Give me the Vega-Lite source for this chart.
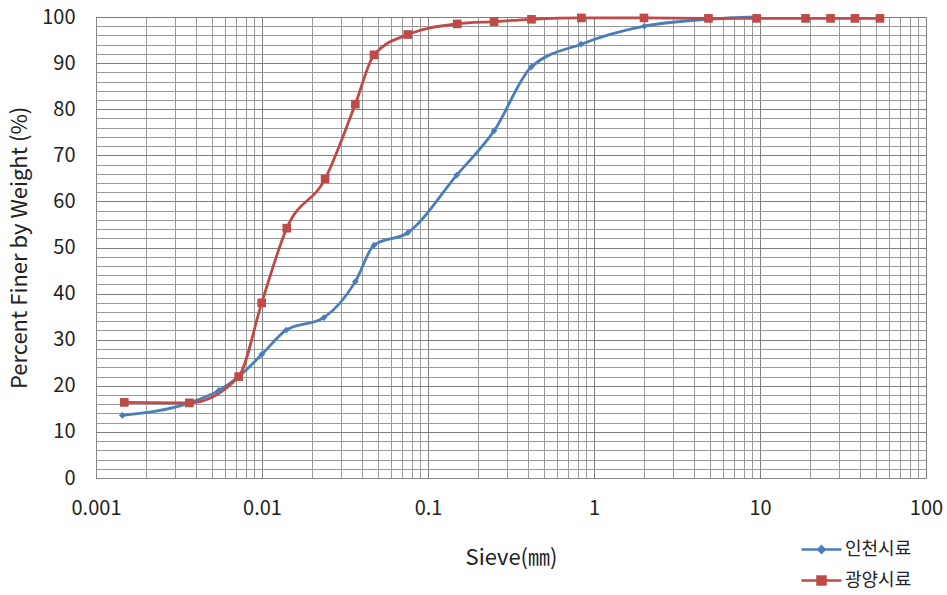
{
  "$schema": "https://vega.github.io/schema/vega-lite/v6.json",
  "width": 830,
  "height": 461,
  "autosize": "none",
  "padding": {"left": 96, "top": 17, "right": 21, "bottom": 117},
  "background": "white",
  "config": {
    "font": "Noto Sans CJK KR",
    "view": {"stroke": "#868686", "strokeWidth": 1}
  },
  "data": {
    "values": [
      {"sieve": 0.00144, "pct": 13.6, "sample": "인천시료"},
      {"sieve": 0.00365, "pct": 16.3, "sample": "인천시료"},
      {"sieve": 0.0055, "pct": 19.0, "sample": "인천시료"},
      {"sieve": 0.00724, "pct": 22.0, "sample": "인천시료"},
      {"sieve": 0.00996, "pct": 26.8, "sample": "인천시료"},
      {"sieve": 0.0140, "pct": 32.1, "sample": "인천시료"},
      {"sieve": 0.0236, "pct": 34.8, "sample": "인천시료"},
      {"sieve": 0.0365, "pct": 42.6, "sample": "인천시료"},
      {"sieve": 0.0473, "pct": 50.5, "sample": "인천시료"},
      {"sieve": 0.0755, "pct": 53.2, "sample": "인천시료"},
      {"sieve": 0.149, "pct": 65.7, "sample": "인천시료"},
      {"sieve": 0.25, "pct": 75.3, "sample": "인천시료"},
      {"sieve": 0.42, "pct": 89.2, "sample": "인천시료"},
      {"sieve": 0.835, "pct": 94.1, "sample": "인천시료"},
      {"sieve": 2.01, "pct": 98.0, "sample": "인천시료"},
      {"sieve": 4.8, "pct": 99.5, "sample": "인천시료"},
      {"sieve": 9.55, "pct": 100, "sample": "인천시료"},
      {"sieve": 0.00148, "pct": 16.4, "sample": "광양시료"},
      {"sieve": 0.00365, "pct": 16.3, "sample": "광양시료"},
      {"sieve": 0.00724, "pct": 22.0, "sample": "광양시료"},
      {"sieve": 0.00996, "pct": 38.0, "sample": "광양시료"},
      {"sieve": 0.0141, "pct": 54.2, "sample": "광양시료"},
      {"sieve": 0.024, "pct": 64.9, "sample": "광양시료"},
      {"sieve": 0.0365, "pct": 81.1, "sample": "광양시료"},
      {"sieve": 0.0473, "pct": 91.8, "sample": "광양시료"},
      {"sieve": 0.0755, "pct": 96.2, "sample": "광양시료"},
      {"sieve": 0.15, "pct": 98.5, "sample": "광양시료"},
      {"sieve": 0.25, "pct": 99.0, "sample": "광양시료"},
      {"sieve": 0.42, "pct": 99.5, "sample": "광양시료"},
      {"sieve": 0.84, "pct": 99.8, "sample": "광양시료"},
      {"sieve": 2.0, "pct": 99.8, "sample": "광양시료"},
      {"sieve": 4.89, "pct": 99.7, "sample": "광양시료"},
      {"sieve": 9.55, "pct": 99.7, "sample": "광양시료"},
      {"sieve": 18.8, "pct": 99.7, "sample": "광양시료"},
      {"sieve": 26.6, "pct": 99.7, "sample": "광양시료"},
      {"sieve": 37.3, "pct": 99.7, "sample": "광양시료"},
      {"sieve": 52.8, "pct": 99.7, "sample": "광양시료"}
    ]
  },
  "layer": [
    {
      "encoding": {
        "x": {
          "field": "sieve",
          "type": "quantitative",
          "scale": {"type": "log", "domain": [0.001, 100], "nice": false},
          "axis": {
            "title": "Sieve(㎜)",
            "titleFontSize": 22,
            "titleFontWeight": "normal",
            "titleColor": "#222",
            "titlePadding": 29,
            "values": [0.001,0.002,0.003,0.004,0.005,0.006,0.007,0.008,0.009,0.01,0.02,0.03,0.04,0.05,0.06,0.07,0.08,0.09,0.1,0.2,0.3,0.4,0.5,0.6,0.7,0.8,0.9,1,2,3,4,5,6,7,8,9,10,20,30,40,50,60,70,80,90,100],
            "labelExpr": "indexof([0.001,0.01,0.1,1,10,100], datum.value) >= 0 ? format(datum.value, '~g') : ''",
            "labelFontSize": 20,
            "labelColor": "#222",
            "labelPadding": 20,
            "labelFlush": false,
            "labelOverlap": false,
            "ticks": false,
            "domainColor": "#868686",
            "grid": true,
            "gridColor": {"condition": {"test": "indexof([0.001,0.01,0.1,1,10,100], datum.value) >= 0", "value": "#7f7f7f"}, "value": "#9a9a9a"},
            "gridWidth": 1
          }
        },
        "y": {
          "field": "pct",
          "type": "quantitative",
          "scale": {"domain": [0, 100], "nice": false},
          "axis": {
            "title": "Percent Finer by Weight (%)",
            "titleFontSize": 22,
            "titleFontWeight": "normal",
            "titleColor": "#222",
            "titlePadding": 10,
            "values": [0,2,4,6,8,10,12,14,16,18,20,22,24,26,28,30,32,34,36,38,40,42,44,46,48,50,52,54,56,58,60,62,64,66,68,70,72,74,76,78,80,82,84,86,88,90,92,94,96,98,100],
            "labelExpr": "datum.value % 10 == 0 ? datum.label : ''",
            "labelFontSize": 20,
            "labelColor": "#222",
            "labelPadding": 21,
            "labelOverlap": false,
            "ticks": false,
            "domainColor": "#868686",
            "grid": true,
            "gridColor": {"condition": {"test": "datum.value % 10 == 0", "value": "#7f7f7f"}, "value": "#9a9a9a"},
            "gridWidth": 1
          }
        },
        "color": {
          "field": "sample",
          "type": "nominal",
          "scale": {"domain": ["인천시료", "광양시료"], "range": ["#4a7ebb", "#be4b48"]},
          "legend": null
        }
      },
      "layer": [
        {
          "mark": {"type": "line", "interpolate": "monotone", "strokeWidth": 2.8}
        },
        {
          "mark": {"type": "point", "filled": true, "opacity": 1},
          "encoding": {
            "shape": {
              "field": "sample",
              "type": "nominal",
              "scale": {"domain": ["인천시료", "광양시료"], "range": ["diamond", "square"]},
              "legend": null
            },
            "size": {
              "field": "sample",
              "type": "nominal",
              "scale": {"domain": ["인천시료", "광양시료"], "range": [45, 75]},
              "legend": null
            }
          }
        }
      ]
    },
    {
      "data": {"values": [{"key": "인천시료"}, {"key": "광양시료"}]},
      "mark": {"type": "point", "filled": true, "opacity": 0},
      "encoding": {
        "fill": {
          "field": "key",
          "type": "nominal",
          "scale": {"domain": ["인천시료", "광양시료"], "range": ["#4a7ebb", "#be4b48"]},
          "legend": {
            "orient": "none",
            "legendX": 704,
            "legendY": 511,
            "title": null,
            "labelFontSize": 18,
            "labelColor": "#222",
            "symbolSize": 1600,
            "symbolStrokeWidth": 2.5,
            "symbolOpacity": 1,
            "rowPadding": -7,
            "labelOffset": 2,
            "encode": {
              "symbols": {
                "update": {
                  "shape": {"signal": "datum.value === '인천시료' ? 'M-1,0L1,0M0,-0.16L0.16,0L0,0.16L-0.16,0Z' : 'M-1,0L1,0M-0.2,-0.2L0.2,-0.2L0.2,0.2L-0.2,0.2Z'"},
                  "stroke": {"signal": "datum.value === '인천시료' ? '#4a7ebb' : '#be4b48'"},
                  "fill": {"signal": "datum.value === '인천시료' ? '#4a7ebb' : '#be4b48'"},
                  "opacity": {"value": 1},
                  "fillOpacity": {"value": 1},
                  "strokeOpacity": {"value": 1}
                }
              }
            }
          }
        }
      }
    }
  ],
  "resolve": {"scale": {"fill": "independent"}}
}
